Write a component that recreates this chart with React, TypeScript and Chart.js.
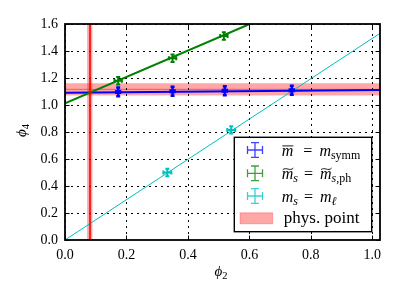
import React, { useEffect, useRef } from "react";
import { Chart, registerables } from "chart.js";

Chart.register(...registerables);

// ---------------- data ----------------
const X_MIN = 0;
const X_MAX = 1.025;
const Y_MIN = 0;
const Y_MAX = 1.6;
const TICK_STEP = 0.2;

// mbar = m_symm
const symmX = [0.173, 0.35, 0.52, 0.738];
const symmY = [1.097, 1.102, 1.106, 1.109];
const symmXErr = [0.0065, 0.0065, 0.0065, 0.0065];
const symmYErr = [0.033, 0.033, 0.033, 0.033];
const symmFitX = [0, 1.025];
const symmFitY = [1.091, 1.111];

// m~s = m~s,ph
const msphX = [0.173, 0.35, 0.517];
const msphY = [1.18, 1.346, 1.511];
const msphXErr = [0.012, 0.012, 0.012];
const msphYErr = [0.028, 0.028, 0.028];
const msphFitX = [0, 0.601];
const msphFitY = [1.012, 1.6];

// ms = ml
const mlX = [0.333, 0.541];
const mlY = [0.5, 0.815];
const mlXErr = [0.013, 0.013];
const mlYErr = [0.027, 0.027];
const mlFitX = [0, 1.025];
const mlFitY = [0, 1.531];

// physical point
const physPhi2 = 0.0805;
const physPhi2Err = 0.0085;
const physPhi4 = 1.116;
const physPhi4Err = 0.045;

const BLUE = "#0000ff";
const GREEN = "#008000";
const CYAN = "#00bfbf";
const RED = "#ff0000";
const BAND = "rgba(255,0,0,0.35)";

const FONT = '"Liberation Serif", "DejaVu Serif", serif';
Chart.defaults.font.family = FONT;

type Seg = { t?: string; it?: boolean; sub?: boolean; gap?: number; deco?: "bar" | "tilde" };

function drawSeq(ctx: CanvasRenderingContext2D, x: number, y: number, segs: Seg[], main = 16, sub = 12, shift = 3) {
  let cx = x;
  ctx.textAlign = "left";
  ctx.textBaseline = "alphabetic";
  for (const s of segs) {
    if (s.gap) {
      cx += s.gap;
      continue;
    }
    const size = s.sub ? sub : main;
    ctx.font = `${s.it ? "italic " : ""}${size}px ${FONT}`;
    const w = ctx.measureText(s.t || "").width;
    const by = y + (s.sub ? shift : 0);
    ctx.fillText(s.t || "", cx, by);
    if (s.deco === "bar") {
      ctx.save();
      ctx.strokeStyle = "#000";
      ctx.lineWidth = 0.9;
      ctx.beginPath();
      ctx.moveTo(cx + 0.5, by - size * 0.6);
      ctx.lineTo(cx + w, by - size * 0.6);
      ctx.stroke();
      ctx.restore();
    } else if (s.deco === "tilde") {
      ctx.save();
      ctx.strokeStyle = "#000";
      ctx.lineWidth = 0.9;
      const ty = by - size * 0.62;
      const x0 = cx + 1;
      const x1 = cx + w;
      ctx.beginPath();
      ctx.moveTo(x0, ty + 0.8);
      ctx.bezierCurveTo(x0 + (x1 - x0) * 0.3, ty - 2.2, x0 + (x1 - x0) * 0.7, ty + 2.8, x1, ty - 0.8);
      ctx.stroke();
      ctx.restore();
    }
    cx += w;
  }
  return cx;
}

function drawErrIcon(ctx: CanvasRenderingContext2D, cx: number, cy: number, color: string) {
  ctx.save();
  ctx.strokeStyle = color;
  ctx.globalAlpha = 0.75;
  ctx.lineWidth = 1.3;
  ctx.beginPath();
  ctx.moveTo(cx - 7.5, cy);
  ctx.lineTo(cx + 7.5, cy);
  ctx.moveTo(cx, cy - 7.3);
  ctx.lineTo(cx, cy + 7.3);
  ctx.moveTo(cx - 4, cy - 7.3);
  ctx.lineTo(cx + 4, cy - 7.3);
  ctx.moveTo(cx - 4, cy + 7.3);
  ctx.lineTo(cx + 4, cy + 7.3);
  ctx.moveTo(cx - 7.5, cy - 4);
  ctx.lineTo(cx - 7.5, cy + 4);
  ctx.moveTo(cx + 7.5, cy - 4);
  ctx.lineTo(cx + 7.5, cy + 4);
  ctx.stroke();
  ctx.restore();
}

const decorPlugin = {
  id: "decor",
  beforeDatasetsDraw(chart: any) {
    const { ctx, chartArea: a, scales } = chart;
    const xs = scales.x;
    const ys = scales.y;
    ctx.save();
    ctx.beginPath();
    ctx.rect(a.left, a.top, a.right - a.left, a.bottom - a.top);
    ctx.clip();
    // horizontal band
    const yLo = ys.getPixelForValue(physPhi4 - physPhi4Err);
    const yHi = ys.getPixelForValue(physPhi4 + physPhi4Err);
    ctx.fillStyle = BAND;
    ctx.fillRect(a.left, yHi, a.right - a.left, yLo - yHi);
    const yc = ys.getPixelForValue(physPhi4);
    ctx.strokeStyle = "rgba(255,0,0,0.5)";
    ctx.lineWidth = 1;
    ctx.beginPath();
    ctx.moveTo(a.left, yc);
    ctx.lineTo(a.right, yc);
    ctx.stroke();
    // vertical band
    const xLo = xs.getPixelForValue(physPhi2 - physPhi2Err);
    const xHi = xs.getPixelForValue(physPhi2 + physPhi2Err);
    ctx.fillStyle = BAND;
    ctx.fillRect(xLo, a.top, xHi - xLo, a.bottom - a.top);
    // grid
    ctx.strokeStyle = "#000";
    ctx.lineWidth = 1;
    ctx.setLineDash([2, 4]);
    for (const t of xs.ticks) {
      const px = Math.round(xs.getPixelForValue(t.value)) + 0.5;
      ctx.beginPath();
      ctx.moveTo(px, a.bottom);
      ctx.lineTo(px, a.top);
      ctx.stroke();
    }
    for (const t of ys.ticks) {
      const py = Math.round(ys.getPixelForValue(t.value)) + 0.5;
      ctx.beginPath();
      ctx.moveTo(a.left, py);
      ctx.lineTo(a.right, py);
      ctx.stroke();
    }
    ctx.setLineDash([]);
    ctx.restore();
  },
  afterDatasetsDraw(chart: any) {
    const { ctx, chartArea: a, scales } = chart;
    const xs = scales.x;
    const ys = scales.y;
    ctx.save();
    ctx.beginPath();
    ctx.rect(a.left, a.top, a.right - a.left, a.bottom - a.top);
    ctx.clip();
    // red vertical line
    const xc = Math.round(xs.getPixelForValue(physPhi2));
    ctx.strokeStyle = RED;
    ctx.lineWidth = 1.6;
    ctx.beginPath();
    ctx.moveTo(xc, a.top);
    ctx.lineTo(xc, a.bottom);
    ctx.stroke();
    // error bars
    chart.data.datasets.forEach((ds: any, i: number) => {
      if (!ds.errX) return;
      const meta = chart.getDatasetMeta(i);
      ctx.strokeStyle = ds.errColor;
      ctx.lineWidth = ds.errWidth;
      meta.data.forEach((pt: any, j: number) => {
        const vx = ds.data[j].x;
        const vy = ds.data[j].y;
        const x0 = xs.getPixelForValue(vx - ds.errX[j]);
        const x1 = xs.getPixelForValue(vx + ds.errX[j]);
        const y0 = ys.getPixelForValue(vy - ds.errY[j]);
        const y1 = ys.getPixelForValue(vy + ds.errY[j]);
        const c = ds.cap;
        ctx.beginPath();
        ctx.moveTo(x0, pt.y);
        ctx.lineTo(x1, pt.y);
        ctx.moveTo(pt.x, y0);
        ctx.lineTo(pt.x, y1);
        ctx.moveTo(pt.x - c, y0);
        ctx.lineTo(pt.x + c, y0);
        ctx.moveTo(pt.x - c, y1);
        ctx.lineTo(pt.x + c, y1);
        ctx.moveTo(x0, pt.y - c);
        ctx.lineTo(x0, pt.y + c);
        ctx.moveTo(x1, pt.y - c);
        ctx.lineTo(x1, pt.y + c);
        ctx.stroke();
      });
    });
    ctx.restore();
  },
  afterDraw(chart: any) {
    const { ctx, chartArea: a, scales } = chart;
    const xs = scales.x;
    const ys = scales.y;
    ctx.save();
    // inward ticks
    ctx.strokeStyle = "#000";
    ctx.lineWidth = 1;
    for (const t of xs.ticks) {
      const px = Math.round(xs.getPixelForValue(t.value)) + 0.5;
      ctx.beginPath();
      ctx.moveTo(px, a.bottom);
      ctx.lineTo(px, a.bottom - 4.5);
      ctx.moveTo(px, a.top);
      ctx.lineTo(px, a.top + 4.5);
      ctx.stroke();
    }
    for (const t of ys.ticks) {
      const py = Math.round(ys.getPixelForValue(t.value)) + 0.5;
      ctx.beginPath();
      ctx.moveTo(a.left, py);
      ctx.lineTo(a.left + 4.5, py);
      ctx.moveTo(a.right, py);
      ctx.lineTo(a.right - 4.5, py);
      ctx.stroke();
    }
    // frame
    ctx.lineWidth = 1.8;
    ctx.strokeRect(a.left, a.top, a.right - a.left, a.bottom - a.top);

    // legend
    const bw = 137.4;
    const bh = 94.4;
    const bx = a.right - 8.3 - bw;
    const by = a.bottom - 8.3 - bh;
    ctx.fillStyle = "#fff";
    ctx.fillRect(bx, by, bw, bh);
    ctx.strokeStyle = "#000";
    ctx.lineWidth = 1.4;
    ctx.strokeRect(bx, by, bw, bh);
    const rows = [by + 12.7, by + 36, by + 58.7, by + 81];
    const ix = bx + 20.7;
    const tx = bx + 47.5;
    drawErrIcon(ctx, ix, rows[0], BLUE);
    drawErrIcon(ctx, ix, rows[1], GREEN);
    drawErrIcon(ctx, ix, rows[2], CYAN);
    ctx.fillStyle = BAND;
    ctx.fillRect(bx + 5.7, rows[3] - 5.5, 32.7, 11);
    ctx.strokeStyle = "rgba(255,0,0,0.25)";
    ctx.lineWidth = 1;
    ctx.strokeRect(bx + 5.7, rows[3] - 5.5, 32.7, 11);
    ctx.fillStyle = "#000";
    drawSeq(ctx, tx, rows[0] + 5.5, [
      { t: "m", it: true, deco: "bar" },
      { gap: 10 },
      { t: "=" },
      { gap: 7 },
      { t: "m", it: true },
      { t: "symm", sub: true },
    ]);
    drawSeq(ctx, tx, rows[1] + 5.5, [
      { t: "m", it: true, deco: "tilde" },
      { t: "s", it: true, sub: true },
      { gap: 6 },
      { t: "=" },
      { gap: 7 },
      { t: "m", it: true, deco: "tilde" },
      { t: "s", it: true, sub: true },
      { t: ",ph", sub: true },
    ]);
    drawSeq(ctx, tx, rows[2] + 5.5, [
      { t: "m", it: true },
      { t: "s", it: true, sub: true },
      { gap: 6 },
      { t: "=" },
      { gap: 7 },
      { t: "m", it: true },
      { t: "\u2113", it: true, sub: true },
    ]);
    ctx.font = `17px ${FONT}`;
    ctx.fillText("phys. point", tx + 2, rows[3] + 5);

    // axis titles
    ctx.fillStyle = "#000";
    drawSeq(ctx, (a.left + a.right) / 2 - 8, 276, [
      { t: "\u03d5", it: true },
      { t: "2", sub: true },
    ], 15, 10.5, 3);
    ctx.save();
    ctx.translate(26, (a.top + a.bottom) / 2 + 5);
    ctx.rotate(-Math.PI / 2);
    drawSeq(ctx, 0, 0, [
      { t: "\u03d5", it: true },
      { t: "4", sub: true },
    ], 15, 10.5, 3);
    ctx.restore();
    ctx.restore();
  },
};

export default function App() {
  const ref = useRef<HTMLCanvasElement | null>(null);
  useEffect(() => {
    document.body.style.margin = "0";
    const canvas = ref.current;
    if (!canvas) return;
    const pts = (xs: number[], ys: number[]) => xs.map((x, i) => ({ x, y: ys[i] }));
    const chart = new Chart(canvas, {
      type: "scatter",
      data: {
        datasets: [
          {
            data: pts(mlFitX, mlFitY),
            showLine: true,
            borderColor: CYAN,
            borderWidth: 1,
            pointRadius: 0,
          },
          {
            data: pts(msphFitX, msphFitY),
            showLine: true,
            borderColor: GREEN,
            borderWidth: 2,
            pointRadius: 0,
          },
          {
            data: pts(symmFitX, symmFitY),
            showLine: true,
            borderColor: BLUE,
            borderWidth: 2,
            pointRadius: 0,
          },
          {
            data: pts(mlX, mlY),
            pointRadius: 0,
            errX: mlXErr,
            errY: mlYErr,
            errColor: CYAN,
            errWidth: 2,
            cap: 2,
          } as any,
          {
            data: pts(msphX, msphY),
            pointRadius: 0,
            errX: msphXErr,
            errY: msphYErr,
            errColor: GREEN,
            errWidth: 2,
            cap: 2,
          } as any,
          {
            data: pts(symmX, symmY),
            pointRadius: 0,
            errX: symmXErr,
            errY: symmYErr,
            errColor: BLUE,
            errWidth: 2.5,
            cap: 2,
          } as any,
        ],
      },
      options: {
        animation: false,
        responsive: false,
        events: [],
        layout: { padding: { left: 0, right: 19, top: 24, bottom: 0 } },
        plugins: { legend: { display: false }, tooltip: { enabled: false } },
        scales: {
          x: {
            type: "linear",
            min: X_MIN,
            max: X_MAX,
            grid: { display: false, drawTicks: false },
            border: { display: false },
            ticks: {
              stepSize: TICK_STEP,
              includeBounds: false,
              padding: 7,
              color: "#000",
              font: { family: FONT, size: 14 },
              callback: (v: any) => Number(v).toFixed(1),
            },
            afterFit: (s: any) => {
              s.height = 59;
            },
          },
          y: {
            type: "linear",
            min: Y_MIN,
            max: Y_MAX,
            grid: { display: false, drawTicks: false },
            border: { display: false },
            ticks: {
              stepSize: TICK_STEP,
              padding: 7,
              color: "#000",
              font: { family: FONT, size: 14 },
              callback: (v: any) => Number(v).toFixed(1),
            },
            afterFit: (s: any) => {
              s.width = 65;
            },
          },
        },
      },
      plugins: [decorPlugin],
    });
    return () => chart.destroy();
  }, []);
  return (
    <div style={{ width: 399, height: 299, position: "relative" }}>
      <canvas ref={ref} width={399} height={299} style={{ display: "block" }} />
    </div>
  );
}
